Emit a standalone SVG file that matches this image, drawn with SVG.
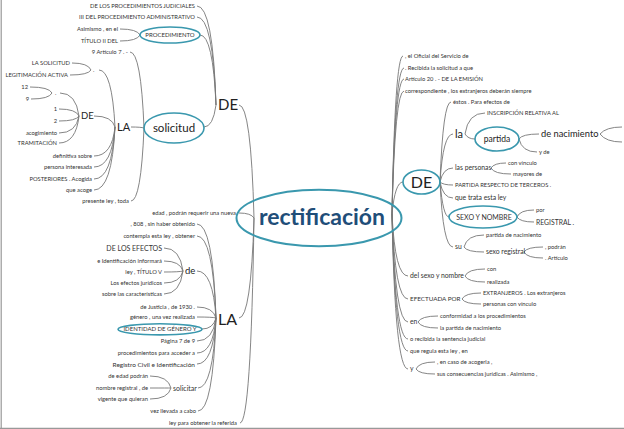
<svg xmlns="http://www.w3.org/2000/svg" width="624" height="429" viewBox="0 0 624 429">
<style>
text{font-family:Lato,"Liberation Sans",sans-serif;fill:#333}
.s{font-size:5.8px}
.m{font-size:6.8px}
.e{text-anchor:end}
.c{text-anchor:middle}
.b{fill:#222}
.ln{fill:none;stroke:#777;stroke-width:0.9}
.el{fill:none;stroke:#3a98ae;stroke-width:1.6}
.fr{stroke:#999;stroke-width:1.2}
</style>
<rect width="624" height="429" fill="#fff"/>
<g id="frame"><line class="fr" x1="1.2" y1="0" x2="1.2" y2="428.4"/><line class="fr" x1="0" y1="428.4" x2="624" y2="428.4"/></g>
<g id="connectors">
<path class="ln" d="M239,105 Q251,105 254,218"/>
<path class="ln" d="M239,318 Q251,318 254,218"/>
<path class="ln" d="M239,213 Q251,213 254,218"/>
<path class="ln" d="M240,423 Q251,423 254,218"/>
<path class="ln" d="M204,127 Q213,127 216,105"/>
<path class="ln" d="M200,35 Q213,35 216,105"/>
<path class="ln" d="M197,17 Q213,17 216,105"/>
<path class="ln" d="M197,6 Q213,6 216,105"/>
<path class="ln" d="M120,29 Q137,29 140,35"/>
<path class="ln" d="M120,41 Q137,41 140,35"/>
<path class="ln" d="M131,127 Q141,127 144,128"/>
<path class="ln" d="M130,52 Q141,52 144,128"/>
<path class="ln" d="M131,201 Q141,201 144,128"/>
<path class="ln" d="M99,70 Q112,70 115,127"/>
<path class="ln" d="M94,116 Q112,116 115,127"/>
<path class="ln" d="M94,156 Q112,156 115,127"/>
<path class="ln" d="M94,167 Q112,167 115,127"/>
<path class="ln" d="M94,179 Q112,179 115,127"/>
<path class="ln" d="M94,190 Q112,190 115,127"/>
<path class="ln" d="M72,63 Q88,63 91,70"/>
<path class="ln" d="M70,75 Q88,75 91,70"/>
<path class="ln" d="M60,93 Q76,93 79,116"/>
<path class="ln" d="M59,109 Q76,109 79,116"/>
<path class="ln" d="M59,121 Q76,121 79,116"/>
<path class="ln" d="M59,133 Q76,133 79,116"/>
<path class="ln" d="M59,143 Q76,143 79,116"/>
<path class="ln" d="M30,87 Q49,87 52,93"/>
<path class="ln" d="M31,99 Q49,99 52,93"/>
<path class="ln" d="M197,224 Q213,224 216,318"/>
<path class="ln" d="M197,236 Q213,236 216,318"/>
<path class="ln" d="M197,271 Q213,271 216,318"/>
<path class="ln" d="M197,307 Q213,307 216,318"/>
<path class="ln" d="M197,317 Q213,317 216,318"/>
<path class="ln" d="M202,329 Q213,329 216,318"/>
<path class="ln" d="M197,341 Q213,341 216,318"/>
<path class="ln" d="M197,353 Q213,353 216,318"/>
<path class="ln" d="M197,364 Q213,364 216,318"/>
<path class="ln" d="M198,388 Q213,388 216,318"/>
<path class="ln" d="M198,411 Q213,411 216,318"/>
<path class="ln" d="M164,248 Q180,248 183,271"/>
<path class="ln" d="M164,261 Q180,261 183,271"/>
<path class="ln" d="M164,272 Q180,272 183,271"/>
<path class="ln" d="M164,283 Q180,283 183,271"/>
<path class="ln" d="M164,294 Q180,294 183,271"/>
<path class="ln" d="M150,376 Q168,376 171,388"/>
<path class="ln" d="M150,388 Q168,388 171,388"/>
<path class="ln" d="M150,399 Q168,399 171,388"/>
<path class="ln" d="M392,214 Q395,56 403,56"/>
<path class="ln" d="M392,214 Q395,68 404,68"/>
<path class="ln" d="M392,214 Q395,79 404,79"/>
<path class="ln" d="M392,214 Q395,91 404,91"/>
<path class="ln" d="M392,214 Q395,182 403,182"/>
<path class="ln" d="M392,214 Q395,276 408,276"/>
<path class="ln" d="M392,214 Q395,299 408,299"/>
<path class="ln" d="M392,214 Q395,322 408,322"/>
<path class="ln" d="M392,214 Q395,339 408,339"/>
<path class="ln" d="M392,214 Q395,351 408,351"/>
<path class="ln" d="M392,214 Q395,369 408,369"/>
<path class="ln" d="M440,182 Q443,102 451,102"/>
<path class="ln" d="M440,182 Q443,134 453,134"/>
<path class="ln" d="M440,182 Q443,168 453,168"/>
<path class="ln" d="M440,182 Q443,185 453,185"/>
<path class="ln" d="M440,182 Q443,198 453,198"/>
<path class="ln" d="M440,182 Q443,217 449,217"/>
<path class="ln" d="M440,182 Q443,247 453,247"/>
<path class="ln" d="M465,134 Q468,113 485,113"/>
<path class="ln" d="M465,134 Q468,139 475,139"/>
<path class="ln" d="M519,139 Q522,134 539,134"/>
<path class="ln" d="M519,139 Q522,152 537,152"/>
<path class="ln" d="M600,134 Q606,127 622,127"/>
<path class="ln" d="M600,134 Q606,142 622,142"/>
<path class="ln" d="M491,168 Q494,163 506,163"/>
<path class="ln" d="M491,168 Q494,174 511,174"/>
<path class="ln" d="M517,217 Q520,210 534,210"/>
<path class="ln" d="M517,217 Q520,222 534,222"/>
<path class="ln" d="M464,247 Q467,235 484,235"/>
<path class="ln" d="M464,247 Q467,252 484,252"/>
<path class="ln" d="M524,252 Q527,247 543,247"/>
<path class="ln" d="M524,252 Q527,258 543,258"/>
<path class="ln" d="M465,276 Q468,269 485,269"/>
<path class="ln" d="M465,276 Q468,282 485,282"/>
<path class="ln" d="M462,299 Q465,293 481,293"/>
<path class="ln" d="M462,299 Q465,304 481,304"/>
<path class="ln" d="M418,322 Q421,316 438,316"/>
<path class="ln" d="M418,322 Q421,328 438,328"/>
<path class="ln" d="M416,369 Q419,362 435,362"/>
<path class="ln" d="M416,369 Q419,374 435,374"/>
</g>
<g id="center"><ellipse class="el" cx="319" cy="218" rx="82.5" ry="28.3" style="stroke-width:2"/><text x="322" y="225" class="c" style="font-size:23px;font-weight:bold;fill:#1f4e79">rectificación</text></g>
<g id="de-top"><text x="218" y="110.4" class="b" style="font-size:15px">DE</text></g>
<g id="n-proc-jud"><text x="195" y="8" class="s e">DE LOS PROCEDIMIENTOS JUDICIALES</text></g>
<g id="n-proc-adm"><text x="195" y="19.3" class="s e">III DEL PROCEDIMIENTO ADMINISTRATIVO</text></g>
<g id="procedimiento"><ellipse class="el" cx="170" cy="35" rx="30" ry="8"/><text x="170" y="37.2" class="c" style="font-size:6px">PROCEDIMIENTO</text></g>
<g id="n-asimismo"><text x="118" y="31.3" class="s e">Asimismo , en el</text></g>
<g id="n-titulo2"><text x="118" y="42.7" class="s e">TÍTULO II DEL</text></g>
<g id="solicitud"><ellipse class="el" cx="174" cy="128" rx="30" ry="15"/><text x="174" y="132" class="c b" style="font-size:11.5px">solicitud</text></g>
<g id="n-art7"><text x="128" y="54" class="s e">9 Artículo 7 . -</text></g>
<g id="n-presente"><text x="129" y="202.7" class="s e">presente ley , toda</text></g>
<g id="la-top"><text x="117" y="131" class="b" style="font-size:11px">LA</text></g>
<g id="dot-1"><text x="93" y="72" class="s">.</text></g>
<g id="n-la-solicitud"><text x="70" y="65" class="s e">LA SOLICITUD</text></g>
<g id="n-legitimacion"><text x="68" y="77" class="s e">LEGITIMACIÓN ACTIVA</text></g>
<g id="de-small"><text x="81" y="119.4" class="b" style="font-size:9.5px">DE</text></g>
<g id="dot-2"><text x="55" y="95" class="s">.</text></g>
<g id="n-12"><text x="28" y="89" class="s e">12</text></g>
<g id="n-9"><text x="29" y="101" class="s e">9</text></g>
<g id="n-1"><text x="57" y="111.3" class="s e">1</text></g>
<g id="n-2"><text x="57" y="122.7" class="s e">2</text></g>
<g id="n-acogimiento"><text x="57" y="134.7" class="s e">acogimiento</text></g>
<g id="n-tramitacion"><text x="57" y="145.3" class="s e">TRAMITACIÓN</text></g>
<g id="n-definitiva"><text x="92" y="158" class="s e">definitiva sobre</text></g>
<g id="n-persona"><text x="92" y="169.3" class="s e">persona interesada</text></g>
<g id="n-posteriores"><text x="92" y="180.7" class="s e">POSTERIORES . Acogida</text></g>
<g id="n-que-acoge"><text x="92" y="192" class="s e">que acoge</text></g>
<g id="n-edad"><text x="236" y="215.3" class="s e">edad , podrán requerir una nueva</text></g>
<g id="la-bottom"><text x="218" y="324.8" class="b" style="font-size:16px">LA</text></g>
<g id="n-808"><text x="195" y="226.3" class="s e">, 808 , sin haber obtenido</text></g>
<g id="n-contempla"><text x="195" y="237.7" class="s e">contempla esta ley , obtener</text></g>
<g id="de-mid"><text x="185" y="274.4" class="b" style="font-size:9.5px">de</text></g>
<g id="n-efectos"><text x="162" y="250.8" class="e" style="font-size:7px">DE LOS EFECTOS</text></g>
<g id="n-identificacion"><text x="162" y="263" class="s e">e Identificación informará</text></g>
<g id="n-titulo5"><text x="162" y="273.7" class="s e">ley , TÍTULO V</text></g>
<g id="n-efectos-jur"><text x="162" y="284.7" class="s e">Los efectos jurídicos</text></g>
<g id="n-caracteristicas"><text x="162" y="296.3" class="s e">sobre las características</text></g>
<g id="n-justicia"><text x="195" y="308.7" class="s e">de Justicia , de 1930 .</text></g>
<g id="n-genero"><text x="195" y="319.3" class="s e">género , una vez realizada</text></g>
<g id="identidad"><ellipse class="el" cx="160" cy="329.3" rx="42" ry="5.6"/><text x="160" y="331.4" class="c" style="font-size:6px">IDENTIDAD DE GÉNERO Y</text></g>
<g id="n-pagina"><text x="195" y="343" class="s e">Página 7 de 9</text></g>
<g id="n-procedimientos"><text x="195" y="354.7" class="s e">procedimientos para acceder a</text></g>
<g id="n-registro"><text x="195" y="366.6" class="e" style="font-size:6.5px">Registro Civil e Identificación</text></g>
<g id="solicitar"><text x="173" y="390.8" style="font-size:7px">solicitar</text></g>
<g id="n-de-edad"><text x="148" y="378" class="s e">de edad podrán</text></g>
<g id="n-nombre-reg"><text x="148" y="390.3" class="s e">nombre registral , de</text></g>
<g id="n-vigente"><text x="148" y="401.3" class="s e">vigente que quieran</text></g>
<g id="n-vez"><text x="196" y="412.7" class="s e">vez llevada a cabo</text></g>
<g id="n-ley-obtener"><text x="237" y="425" class="s e">ley para obtener la referida</text></g>
<g id="n-oficial"><text x="405" y="58" class="s">, el Oficial del Servicio de</text></g>
<g id="n-recibida"><text x="405" y="70" class="s">. Recibida la solicitud a que</text></g>
<g id="n-art20"><text x="405" y="81.3" class="s">Artículo 20 . - DE LA EMISIÓN</text></g>
<g id="n-correspondiente"><text x="405" y="92.7" class="s">correspondiente , los extranjeros deberán siempre</text></g>
<g id="de-right"><ellipse class="el" cx="421.5" cy="182" rx="18.5" ry="12"/><text x="421.5" y="187.8" class="c b" style="font-size:16px">DE</text></g>
<g id="n-estos"><text x="453" y="103.7" class="s">éstos . Para efectos de</text></g>
<g id="la-right"><text x="455" y="138" class="b" style="font-size:11px">la</text></g>
<g id="n-inscripcion"><text x="487" y="115.3" class="s">INSCRIPCIÓN RELATIVA AL</text></g>
<g id="partida"><ellipse class="el" cx="497" cy="139" rx="22" ry="12"/><text x="497" y="142" class="c b" style="font-size:8.5px">partida</text></g>
<g id="de-nacimiento"><text x="541" y="137.3" class="b" style="font-size:9.3px">de nacimiento</text></g>
<g id="n-y-de"><text x="539" y="153.7" class="s">y de</text></g>
<g id="las-personas"><text x="455" y="170.3" class="m">las personas</text></g>
<g id="n-con-vinculo"><text x="508" y="164.7" class="s">con vínculo</text></g>
<g id="n-mayores"><text x="513" y="176" class="s">mayores de</text></g>
<g id="n-partida-resp"><text x="455" y="187" class="s">PARTIDA RESPECTO DE TERCEROS .</text></g>
<g id="n-que-trata"><text x="455" y="199.7" class="m">que trata esta ley</text></g>
<g id="sexo-nombre"><ellipse class="el" cx="483" cy="217" rx="34" ry="11"/><text x="484" y="219.5" class="c" style="font-size:7px">SEXO Y NOMBRE</text></g>
<g id="n-por"><text x="536" y="212" class="s">por</text></g>
<g id="n-registral"><text x="536" y="224.7" style="font-size:6.8px">REGISTRAL .</text></g>
<g id="su"><text x="455" y="249" class="m">su</text></g>
<g id="n-partida-nac"><text x="486" y="237" class="s">partida de nacimiento</text></g>
<g id="sexo-registral"><text x="486" y="253.7" class="m">sexo registral</text></g>
<g id="n-podran"><text x="545" y="248.7" class="s">, podrán</text></g>
<g id="n-articulo"><text x="545" y="259.7" class="s">. Artículo</text></g>
<g id="del-sexo"><text x="410" y="278" class="m">del sexo y nombre</text></g>
<g id="n-con"><text x="487" y="271.3" class="s">con</text></g>
<g id="n-realizada"><text x="487" y="283.7" class="s">realizada</text></g>
<g id="efectuada"><text x="410" y="301.2" style="font-size:6.3px">EFECTUADA POR</text></g>
<g id="n-extranjeros"><text x="483" y="295.3" class="s">EXTRANJEROS . Los extranjeros</text></g>
<g id="n-personas-vinc"><text x="483" y="306.3" class="s">personas con vínculo</text></g>
<g id="en"><text x="410" y="323.9" class="m">en</text></g>
<g id="n-conformidad"><text x="440" y="318" class="s">conformidad a los procedimientos</text></g>
<g id="n-la-partida"><text x="440" y="329.7" class="s">la partida de nacimiento</text></g>
<g id="n-o-recibida"><text x="410" y="341.3" class="s">o recibida la sentencia judicial</text></g>
<g id="n-que-regula"><text x="410" y="352.7" class="s">que regula esta ley , en</text></g>
<g id="y"><text x="410" y="371.2" class="m">y</text></g>
<g id="n-acogerla"><text x="437" y="364.3" class="s">, en caso de acogerla ,</text></g>
<g id="n-consecuencias"><text x="437" y="376" class="s">sus consecuencias jurídicas . Asimismo ,</text></g>
</svg>
